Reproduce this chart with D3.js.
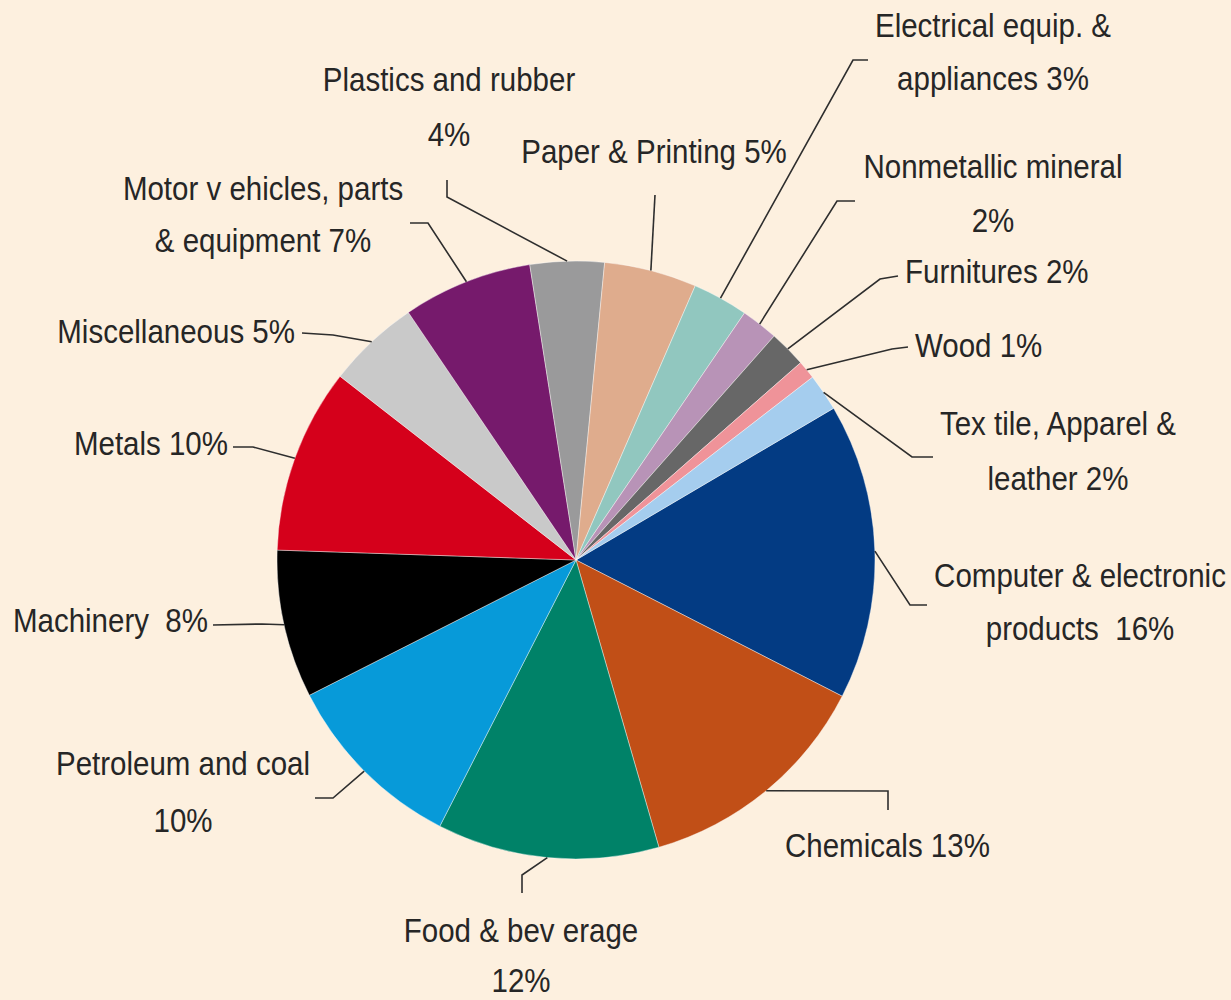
<!DOCTYPE html>
<html>
<head>
<meta charset="utf-8">
<script src="https://cdn.jsdelivr.net/npm/d3@7"></script>
<style>
  html, body { margin: 0; padding: 0; background: #fdf0df; }
  svg { display: block; }
  text { font-family: "Liberation Sans", Arial, sans-serif; fill: #262626; white-space: pre; }
</style>
</head>
<body>
<svg id="chart" width="1231" height="1000"></svg>
<script>
// Share of manufacturing by industry (per cent), clockwise from the largest slice
const categories = [
  "Computer & electronic products", "Chemicals", "Food & beverage", "Petroleum and coal",
  "Machinery", "Metals", "Miscellaneous", "Motor vehicles, parts & equipment",
  "Plastics and rubber", "Paper & Printing", "Electrical equip. & appliances",
  "Nonmetallic mineral", "Furnitures", "Wood", "Textile, Apparel & leather"
];
const shares = [16, 13, 12, 10, 8, 10, 5, 7, 4, 5, 3, 2, 2, 1, 2];

// Label text; the value is appended to the last line of each label
const labelLines = [
  ["Computer & electronic", "products  "],
  ["Chemicals "],
  ["Food & bev erage", ""],
  ["Petroleum and coal", ""],
  ["Machinery  "],
  ["Metals "],
  ["Miscellaneous "],
  ["Motor v ehicles, parts", "& equipment "],
  ["Plastics and rubber", ""],
  ["Paper & Printing "],
  ["Electrical equip. &", "appliances "],
  ["Nonmetallic mineral", ""],
  ["Furnitures "],
  ["Wood "],
  ["Tex tile, Apparel &", "leather "]
];

// Slice colours, in the same order as the categories
const palette = [
  "#033b83", "#c14f17", "#008268", "#079ad9", "#000000",
  "#d5001b", "#c9c9c9", "#761a6c", "#9a9a9b", "#dfac8d",
  "#91c7bf", "#b893b7", "#676767", "#ef9399", "#a5cdee"
];

// Label placement: text anchor point, alignment, line baselines and leader elbows
const labelLayout = [
  { x: 1080, anchor: "middle", ys: [587, 640], leader: [[927, 605], [910, 605]] },
  { x: 785,  anchor: "start",  ys: [857],      leader: [[888, 810], [888, 791]] },
  { x: 521,  anchor: "middle", ys: [942, 992], leader: [[522, 893], [522, 875]] },
  { x: 183,  anchor: "middle", ys: [775, 832], leader: [[315, 798], [333, 798]] },
  { x: 208,  anchor: "end",    ys: [632],      leader: [[213, 625], [262, 624]] },
  { x: 228,  anchor: "end",    ys: [455],      leader: [[233, 447], [253, 447]] },
  { x: 295,  anchor: "end",    ys: [343],      leader: [[302, 333], [333, 335]] },
  { x: 263,  anchor: "middle", ys: [200, 252], leader: [[410, 223], [428, 223]] },
  { x: 449,  anchor: "middle", ys: [91, 146],  leader: [[447, 180], [447, 197]] },
  { x: 654,  anchor: "middle", ys: [163],      leader: [[655, 195]] },
  { x: 993,  anchor: "middle", ys: [37, 90],   leader: [[868, 60], [853, 60]] },
  { x: 993,  anchor: "middle", ys: [178, 232], leader: [[855, 201], [837, 201]] },
  { x: 905,  anchor: "start",  ys: [283],      leader: [[898, 276], [880, 279]] },
  { x: 915,  anchor: "start",  ys: [357],      leader: [[908, 347], [892, 349]] },
  { x: 1058, anchor: "middle", ys: [435, 490], leader: [[933, 457], [912, 457]] }
];

const cx = 576, cy = 560, radius = 299;
const startDeg = 59.5;

const data = categories.map((c, i) => ({ name: c, value: shares[i], idx: i }));

const pie = d3.pie()
  .value(d => d.value)
  .sort(null)
  .startAngle(startDeg * Math.PI / 180)
  .endAngle(startDeg * Math.PI / 180 + 2 * Math.PI);

const arcs = pie(data);
const arc = d3.arc().innerRadius(0).outerRadius(radius);

const svg = d3.select("#chart");
svg.append("rect").attr("width", 1231).attr("height", 1000).attr("fill", "#fdf0df");

const g = svg.append("g").attr("transform", `translate(${cx},${cy})`);

g.selectAll("path.slice")
  .data(arcs)
  .join("path")
  .attr("class", "slice")
  .attr("d", arc)
  .attr("fill", d => palette[d.data.idx])
  .attr("stroke", "#ffffff")
  .attr("stroke-opacity", 0.4)
  .attr("stroke-width", 1);

// Leader lines: from the label elbow to the middle of the slice's rim
const line = d3.line();
arcs.forEach(a => {
  const mid = (a.startAngle + a.endAngle) / 2;
  const rim = [cx + radius * Math.sin(mid), cy - radius * Math.cos(mid)];
  const pts = labelLayout[a.data.idx].leader.concat([rim]);
  svg.append("path")
    .attr("d", line(pts))
    .attr("fill", "none")
    .attr("stroke", "#2e2e2e")
    .attr("stroke-width", 1.6);
});

// Labels
arcs.forEach(a => {
  const i = a.data.idx;
  const L = labelLayout[i];
  const lines = labelLines[i].slice();
  lines[lines.length - 1] = lines[lines.length - 1] + shares[i] + "%";
  lines.forEach((t, k) => {
    svg.append("text")
      .attr("transform", `translate(${L.x},${L.ys[k]}) scale(1,1.1)`)
      .attr("text-anchor", L.anchor)
      .attr("font-size", 29.5)
      .text(t);
  });
});
</script>
</body>
</html>
